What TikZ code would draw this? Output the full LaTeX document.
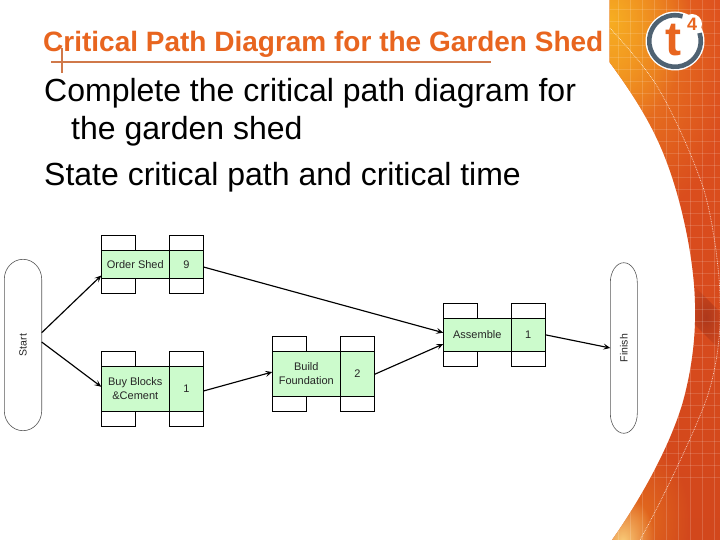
\documentclass[tikz,border=0pt]{standalone}
\usepackage{fontspec}
\setmainfont{Liberation Sans}
\usetikzlibrary{arrows.meta,fadings}
\definecolor{titleor}{HTML}{E8651F}
\definecolor{ruleor}{HTML}{D0794A}
\definecolor{cellgreen}{HTML}{CCFBCC}
\definecolor{logogray}{HTML}{4F6272}
\definecolor{bandyellow}{HTML}{F7AE22}
\definecolor{bandorange}{HTML}{EE8420}
\definecolor{bandred}{HTML}{DE501E}
\definecolor{banddeep}{HTML}{D2471C}
\definecolor{banddark}{HTML}{A9361B}
\tikzfading[name=softblob, inner color=transparent!0, outer color=transparent!100]
\tikzset{
  cell/.style={draw=black,line width=0.7pt,fill=cellgreen,inner sep=0pt,outer sep=0pt,align=center,
    font=\fontsize{11}{14.5}\selectfont,text=black!85},
  slot/.style={draw=black,line width=0.7pt,fill=white,inner sep=0pt,outer sep=0pt,minimum width=34.2pt,minimum height=15pt},
  terminal/.style={inner sep=0pt,outer sep=0pt,font=\fontsize{10.5}{12}\selectfont,text=black!85},
  pillline/.style={draw=black!65,line width=0.6pt},
  arr/.style={-{Stealth[length=7pt,width=6pt,inset=3pt]},line width=1.15pt,black},
  body/.style={anchor=base west,inner sep=0pt,font=\fontsize{32}{36}\selectfont,text=black},
}
\begin{document}
\begin{tikzpicture}[x=1pt,y=-1pt]
\useasboundingbox (0,0) rectangle (720,540);
\fill[white] (0,0) rectangle (720,540);
% orange band
\begin{scope}
\clip (609.5,0) -- (720,0) -- (720,540) -- (612,540)
  .. controls (640,500) and (668,450) .. (682,405)
  .. controls (692,370) and (696,335) .. (695,303)
  .. controls (694,260) and (682,200) .. (664,155)
  .. controls (650,120) and (630,90) .. (609.5,62) -- cycle;
\shade[top color=bandred,bottom color=banddeep] (600,0) rectangle (720,540);
\fill[bandorange,path fading=softblob] (500,-100) rectangle (730,230);
\fill[bandyellow,path fading=softblob] (530,-90) rectangle (690,130);
\fill[bandorange,opacity=.6,path fading=softblob] (590,440) rectangle (690,600);
\fill[bandyellow!60!white,path fading=softblob] (590,495) rectangle (655,590);
\fill[banddark,opacity=.9,path fading=softblob] (684,276) -- (728,320) -- (728,358) -- (684,314) -- cycle;
\foreach \gx in {618,630,642,654,666,678,690,702,714}
  \draw[white,opacity=.16,line width=.7pt] (\gx,0) -- (\gx,540);
\foreach \gy in {9,21,33,45,57,69,81,93,105,117,129,141,153,165,177,189,201,213,225,237,249,261,273,285,297,309,321,333,345,357,369,381,393,405,417,429,441,453,465,477}
  \draw[white,opacity=.14,line width=.7pt] (600,\gy) -- (720,\gy);
\draw[white,opacity=.8,line width=.7pt,densely dotted] (610,28) .. controls (630,50) and (645,68) .. (653,80)
  .. controls (670,105) and (692,155) .. (703,187) .. controls (712,215) and (720,270) .. (720,300)
  .. controls (722,345) and (712,385) .. (705,403) .. controls (695,430) and (665,495) .. (640,540);
\end{scope}
% logo
\fill[white] (675,41) circle (29.5);
\draw[logogray,line width=4.6pt] (675,41) ++(-18:25.8) arc[start angle=-18,end angle=287,radius=25.8];
\fill[white] (692,24) circle (10);
\node[inner sep=0pt,text=titleor,font=\fontsize{48}{48}\bfseries\selectfont] (logot) at (673.5,40) {t};
\node[inner sep=0pt,text=titleor,font=\fontsize{18}{18}\bfseries\selectfont] (logofour) at (692,24.5) {4};
% title
\draw[ruleor,line width=1.1pt] (51,62) -- (491,62);
\draw[ruleor,line width=1.1pt] (62,48) -- (62,73);
\node[anchor=base west,inner sep=0pt,text=titleor,font=\fontsize{28}{30}\bfseries\selectfont] (title) at (43,52) {Critical Path Diagram for the Garden Shed};
\node[body] (l1) at (44,102) {Complete the critical path diagram for};
\node[body] (l2) at (71,140) {the garden shed};
\node[body] (l3) at (44,186) {State critical path and critical time};
% Start / Finish
\node[terminal,minimum width=37.4pt,minimum height=171.4pt] (start) at (23,345) {\rotatebox{90}{Start}};
\draw[pillline] (start.west) ++(0,-65.7) arc[start angle=180,end angle=360,x radius=18.7,y radius=20] -- ++(0,131.4) arc[start angle=0,end angle=180,x radius=18.7,y radius=20] -- cycle;
\node[terminal,minimum width=27pt,minimum height=170.6pt] (finish) at (623.8,348) {\rotatebox{90}{Finish}};
\draw[pillline] (finish.west) ++(0,-65.3) arc[start angle=180,end angle=360,x radius=13.5,y radius=20] -- ++(0,130.6) arc[start angle=0,end angle=180,x radius=13.5,y radius=20] -- cycle;
% Order Shed
\node[cell,minimum width=68pt,minimum height=28pt] (order) at (135.3,264.3) {Order Shed};
\node[cell,minimum width=34.2pt,minimum height=28pt] (orderd) at (186.4,264.3) {9};
\node[slot] (ordera) at (118.5,242.8) {};
\node[slot] (orderb) at (186.4,242.8) {};
\node[slot] (orderc) at (118.5,285.8) {};
\node[slot] (ordere) at (186.4,285.8) {};
% Buy Blocks
\node[cell,minimum width=68pt,minimum height=45pt] (buy) at (135.3,388.8) {Buy Blocks\\\&Cement};
\node[cell,minimum width=34.2pt,minimum height=45pt] (buyd) at (186.4,388.8) {1};
\node[slot] (buya) at (118.5,358.8) {};
\node[slot] (buyb) at (186.4,358.8) {};
\node[slot] (buyc) at (118.5,418.8) {};
\node[slot] (buye) at (186.4,418.8) {};
% Build Foundation
\node[cell,minimum width=68pt,minimum height=45pt] (build) at (306.3,373.8) {Build\\Foundation};
\node[cell,minimum width=34.2pt,minimum height=45pt] (buildd) at (357.5,373.8) {2};
\node[slot] (builda) at (289.4,343.8) {};
\node[slot] (buildb) at (357.5,343.8) {};
\node[slot] (buildc) at (289.4,403.8) {};
\node[slot] (builde) at (357.5,403.8) {};
% Assemble
\node[cell,minimum width=68pt,minimum height=33pt] (asm) at (477.3,334.8) {Assemble};
\node[cell,minimum width=34pt,minimum height=33pt] (asmd) at (528.3,334.8) {1};
\node[slot] (asma) at (460.5,310.8) {};
\node[slot] (asmb) at (528.3,310.8) {};
\node[slot] (asmc) at (460.5,358.8) {};
\node[slot] (asme) at (528.3,358.8) {};
% connectors
\draw[arr] ([yshift=12.3pt]start.east) -- ([yshift=-11.2pt]order.west);
\draw[arr] ([yshift=3pt]start.east) -- ([yshift=2pt]buy.west);
\draw[arr] ([yshift=-2.2pt]buyd.east) -- ([yshift=1.8pt]build.west);
\draw[arr] ([yshift=-2.7pt]orderd.east) -- ([yshift=2.1pt]asm.west);
\draw[arr] ([yshift=-.5pt]buildd.east) -- ([yshift=-9.2pt]asm.west);
\draw[arr] (asmd.east) -- (finish.west);
\end{tikzpicture}
\end{document}
